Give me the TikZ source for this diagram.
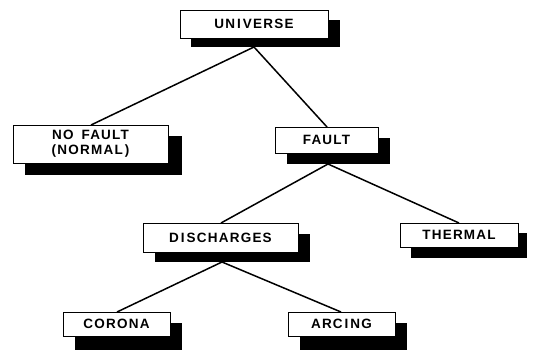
\documentclass[tikz,border=0pt]{standalone}
\usepackage{fontspec}
\setmainfont{Liberation Sans}[LetterSpace=9]
\begin{document}
\begin{tikzpicture}[x=1pt,y=-1pt,
  box/.style={draw=black,line width=0.9pt,fill=white,inner sep=0pt,
    font=\bfseries\fontsize{13.5}{15}\selectfont,align=center},
  shade/.style={fill=black,draw=none},
  link/.style={line width=1.5pt}]
\useasboundingbox (0,0) rectangle (536,350);
\def\mkbox#1#2#3#4#5#6{%
  \node[box,minimum width={#4-#2},minimum height={#5-#3}] (#1) at ({(#2+#4)/2},{(#3+#5)/2}) {#6};}
% link end points
\coordinate (uS) at (254,47);
\coordinate (nfN) at (91,125);
\coordinate (fN) at (327,127);
\coordinate (fS) at (328,164);
\coordinate (dN) at (221,223);
\coordinate (tN) at (459,223);
\coordinate (dS) at (222,262);
\coordinate (cN) at (117,312);
\coordinate (aN) at (341,312);
\draw[link] (uS) -- (nfN);
\draw[link] (uS) -- (fN);
\draw[link] (fS) -- (dN);
\draw[link] (fS) -- (tN);
\draw[link] (dS) -- (cN);
\draw[link] (dS) -- (aN);
% shadows
\fill[shade] (191,20) rectangle (340,47);
\fill[shade] (25,136) rectangle (182,175);
\fill[shade] (287,138) rectangle (390,164);
\fill[shade] (155,234) rectangle (310,262);
\fill[shade] (411,233) rectangle (527,258);
\fill[shade] (75,323) rectangle (182,352);
\fill[shade] (300,323) rectangle (407,352);
% boxes
\mkbox{universe}{180}{10}{328}{38}{UN\kern2pt I\kern2pt VERSE}
\mkbox{nofault}{13}{125}{168}{163}{NO\hspace{8pt}FAULT\\(NORMAL\kern2pt)}
\mkbox{fault}{275}{127}{378}{153}{FAULT}
\mkbox{discharges}{143}{223}{298}{252}{D\kern2pt I\kern2pt SCHARGES}
\mkbox{thermal}{400}{223}{518}{247}{THERMAL}
\mkbox{corona}{63}{312}{170}{336}{CORONA}
\mkbox{arcing}{288}{312}{395}{336}{ARC\kern2pt I\kern2pt NG}
\end{tikzpicture}
\end{document}
